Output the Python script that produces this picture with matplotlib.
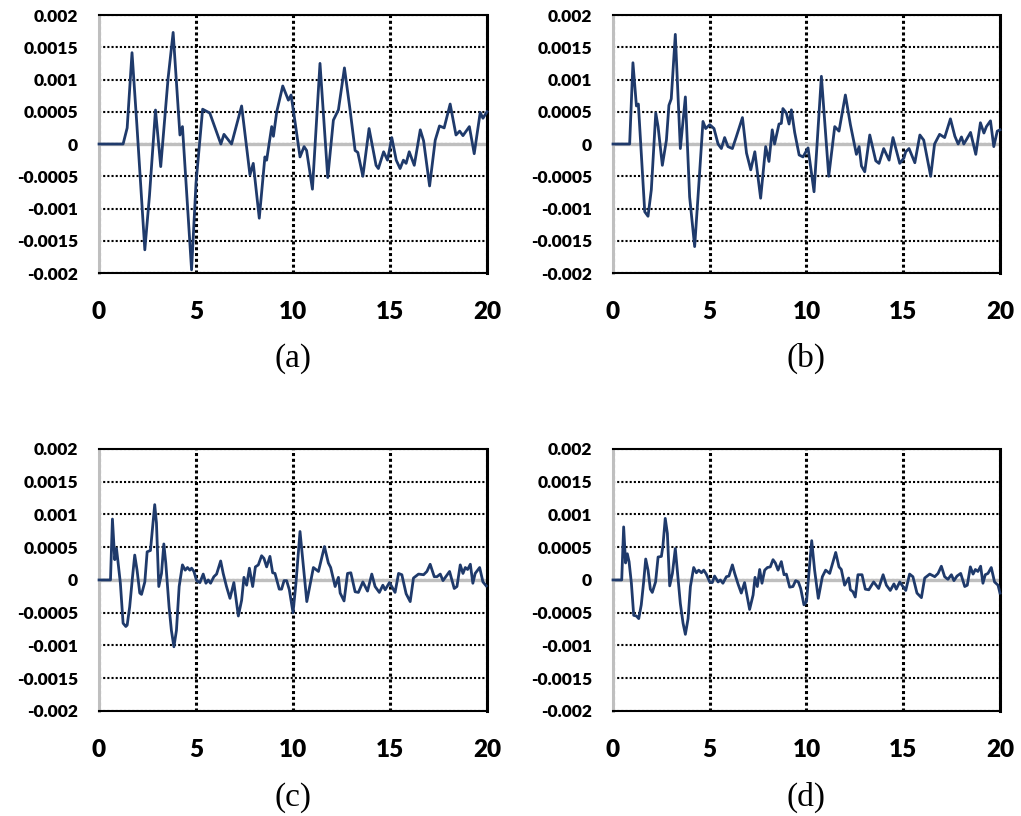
import matplotlib
matplotlib.use('Agg')
import matplotlib.pyplot as plt

# time (s) and response values
t_a = [0, 1.24, 1.45, 1.70, 1.95, 2.36, 2.60, 2.91, 3.18, 3.56, 3.82, 4.17, 4.30, 4.77, 5.0,
       5.34, 5.71, 6.28, 6.44, 6.83, 7.35, 7.78, 7.95, 8.26, 8.55, 8.64, 8.90, 8.99, 9.16, 9.47,
       9.76, 9.90, 10.10, 10.36, 10.57, 10.70, 11.0, 11.39, 11.79, 12.08, 12.34, 12.65, 12.94,
       13.2, 13.34, 13.6, 13.92, 14.28, 14.4, 14.67, 14.87, 15.09, 15.32, 15.52, 15.69, 15.83,
       15.99, 16.25, 16.56, 16.73, 17.04, 17.33, 17.55, 17.79, 18.1, 18.4, 18.59, 18.76, 19.09,
       19.34, 19.65, 19.79, 20.0]
y_a = [0, 0, 0.00025, 0.001416, 0.0003, -0.00164, -0.0008, 0.000527, -0.00035, 0.00102, 0.00173,
       0.00014, 0.00027, -0.00195, -0.0006, 0.00054, 0.00048, 0.0, 0.00015, 0.0, 0.00059,
       -0.00048, -0.0003, -0.00115, -0.0002, -0.00025, 0.00027, 0.00012, 0.0005, 0.0009, 0.00068,
       0.00076, 0.00035, -0.0002, -0.00004, -0.0001, -0.0007, 0.00125, -0.00052, 0.00037,
       0.00053, 0.00118, 0.00053, -0.0001, -0.00013, -0.0005, 0.00024, -0.00033, -0.00038,
       -0.00012, -0.00025, 0.0001, -0.00025, -0.00038, -0.00025, -0.0003, -0.00012, -0.00033,
       0.00022, 0.00005, -0.00065, 0.00006, 0.00028, 0.00025, 0.00062, 0.00014, 0.0002, 0.00013,
       0.00027, -0.00015, 0.00049, 0.0004, 0.0005]

t_b = [0, 0.86, 1.03, 1.21, 1.31, 1.64, 1.81, 1.98, 2.21, 2.33, 2.55, 2.76, 2.89, 3.01, 3.22,
       3.48, 3.74, 3.96, 4.22, 4.44, 4.65, 4.79, 5.0, 5.22, 5.43, 5.6, 5.77, 5.94, 6.17, 6.37,
       6.69, 6.9, 7.12, 7.33, 7.63, 7.89, 8.06, 8.23, 8.35, 8.58, 8.7, 8.78, 8.96, 9.1, 9.22,
       9.39, 9.62, 9.82, 10.08, 10.39, 10.77, 11.15, 11.46, 11.68, 12.01, 12.27, 12.58, 12.72,
       12.84, 13.01, 13.27, 13.58, 13.75, 13.99, 14.27, 14.47, 14.82, 15.03, 15.13, 15.3, 15.6,
       15.86, 16.06, 16.42, 16.62, 16.88, 17.14, 17.44, 17.67, 17.84, 18.01, 18.13, 18.27,
       18.48, 18.75, 18.99, 19.17, 19.3, 19.51, 19.68, 19.86, 20.0]
y_b = [0, 0, 0.00126, 0.00059, 0.00062, -0.00105, -0.00112, -0.00071, 0.00048, 0.00027,
       -0.00033, 0.00006, 0.0006, 0.0007, 0.0017, -0.00007, 0.00073, -0.00082, -0.00159,
       -0.00061, 0.00035, 0.00024, 0.0003, 0.00024, 0.0, -0.00007, 0.0001, -0.00004, -0.00007,
       0.00011, 0.00041, -0.00014, -0.0004, -0.00012, -0.00084, -0.00004, -0.00027, 0.00022,
       0.0, 0.00031, 0.00032, 0.00055, 0.00048, 0.00031, 0.00053, 0.00018, -0.00017, -0.0002,
       -0.00006, -0.00074, 0.00105, -0.0005, 0.00027, 0.0002, 0.00076, 0.0003, -0.00016,
       -0.00004, -0.00034, -0.00043, 0.00014, -0.00026, -0.0003, -0.00007, -0.00025, 0.0001,
       -0.0003, -0.00022, -0.00012, -0.00007, -0.00029, 0.00014, 0.00006, -0.0005, 0.0, 0.00015,
       0.0001, 0.00039, 0.00012, 0.0, 0.00011, 0.0, 0.00007, 0.00018, -0.00016, 0.00033,
       0.00017, 0.00027, 0.00036, -0.00004, 0.0002, 0.00022]

t_c = [0, 0.59, 0.69, 0.81, 0.90, 0.98, 1.10, 1.24, 1.38, 1.45, 1.58, 1.72, 1.84, 1.96, 2.10,
       2.19, 2.36, 2.48, 2.65, 2.75, 2.87, 2.96, 3.08, 3.22, 3.34, 3.44, 3.61, 3.73, 3.86, 3.99,
       4.13, 4.30, 4.44, 4.56, 4.68, 4.77, 4.89, 5.03, 5.20, 5.37, 5.51, 5.63, 5.75, 5.92, 6.06,
       6.27, 6.40, 6.57, 6.75, 6.95, 7.18, 7.35, 7.47, 7.61, 7.75, 7.92, 8.06, 8.21, 8.38, 8.50,
       8.64, 8.81, 8.95, 9.07, 9.29, 9.41, 9.54, 9.67, 9.81, 10.0, 10.15, 10.36, 10.71, 11.05,
       11.31, 11.62, 11.82, 11.94, 12.17, 12.34, 12.43, 12.63, 12.81, 12.98, 13.2, 13.37, 13.6,
       13.84, 14.06, 14.23, 14.45, 14.63, 14.75, 14.97, 15.09, 15.26, 15.44, 15.61, 15.83,
       16.04, 16.21, 16.47, 16.73, 16.9, 17.07, 17.28, 17.42, 17.59, 17.73, 17.9, 18.07, 18.31,
       18.45, 18.62, 18.76, 18.88, 19.0, 19.14, 19.27, 19.39, 19.62, 19.79, 19.96]
y_c = [0, 0, 0.00093, 0.00031, 0.00048, 0.00027, -0.00005, -0.00066, -0.00071, -0.00069,
       -0.00041, 0.00003, 0.00038, 0.00015, -0.0002, -0.00022, -0.00003, 0.00043, 0.00045,
       0.00077, 0.00115, 0.00087, -0.0001, 0.0001, 0.00055, 0.00026, -0.00041, -0.00077,
       -0.00102, -0.00077, -0.0001, 0.00023, 0.00015, 0.00019, 0.00015, 0.00018, 0.00013,
       -0.00001, -0.00004, 0.00009, -0.00005, 0.0, -0.00005, 0.00005, 0.00009, 0.00029, 0.0001,
       -0.0001, -0.00028, -0.00004, -0.00055, -0.00031, 0.00004, -0.00008, 0.00018, -0.0001,
       0.0002, 0.00023, 0.00037, 0.00033, 0.0002, 0.00036, 0.00011, 0.0001, -0.00014, -0.00014,
       -0.00001, -0.00001, -0.00015, -0.0005, -0.00005, 0.00074, -0.00033, 0.00019, 0.00013,
       0.00051, 0.00026, 0.00019, -0.0001, 0.00004, -0.0002, -0.00032, 0.0001, 0.00011,
       -0.00018, -0.00019, -0.00003, -0.00017, 0.00009, -0.0001, -0.00019, -0.00008, -0.00015,
       -0.00004, -0.0001, -0.00019, 0.0001, 0.00008, -0.00021, -0.00033, 0.00003, 0.00009,
       0.00008, 0.00013, 0.00024, 0.00005, 0.00005, 0.00009, -0.00001, 0.00006, 0.00013,
       -0.00013, -0.0001, 0.00023, 0.0001, 0.00019, 0.00016, 0.00024, -0.00005, 0.0001, 0.00019,
       -0.00003, -0.00009]

t_d = [0, 0.45, 0.55, 0.65, 0.74, 0.83, 0.95, 1.07, 1.21, 1.33, 1.46, 1.58, 1.69, 1.81, 1.93,
       2.03, 2.20, 2.33, 2.50, 2.58, 2.70, 2.81, 2.93, 3.07, 3.22, 3.32, 3.48, 3.62, 3.74, 3.88,
       4.00, 4.17, 4.31, 4.43, 4.57, 4.69, 4.82, 5.00, 5.13, 5.25, 5.43, 5.55, 5.68, 5.86, 5.99,
       6.17, 6.29, 6.46, 6.63, 6.80, 7.06, 7.24, 7.34, 7.46, 7.58, 7.70, 7.84, 7.98, 8.13, 8.27,
       8.39, 8.53, 8.70, 8.84, 8.96, 9.13, 9.30, 9.44, 9.58, 9.70, 9.87, 10.0, 10.27, 10.42,
       10.61, 10.82, 10.99, 11.2, 11.51, 11.68, 11.8, 11.97, 12.18, 12.27, 12.4, 12.52, 12.66,
       12.87, 13.04, 13.22, 13.47, 13.73, 13.96, 14.13, 14.33, 14.52, 14.64, 14.82, 14.99,
       15.13, 15.33, 15.5, 15.71, 15.94, 16.11, 16.37, 16.63, 16.8, 16.97, 17.14, 17.31, 17.49,
       17.62, 17.78, 17.97, 18.18, 18.31, 18.47, 18.61, 18.73, 18.86, 19.0, 19.12, 19.24, 19.38,
       19.55, 19.72, 19.9, 20.0]
y_d = [0, 0, 0.00081, 0.00026, 0.0004, 0.00028, -0.00005, -0.00054, -0.00055, -0.00059,
       -0.00038, -0.00004, 0.00032, 0.00015, -0.00014, -0.00019, -0.00003, 0.00035, 0.00036,
       0.00052, 0.00094, 0.00071, -0.00009, 0.0001, 0.00048, 0.00015, -0.00036, -0.00066,
       -0.00083, -0.00059, -0.0001, 0.00019, 0.00011, 0.00015, 0.00011, 0.00015, 0.00009,
       -0.00003, -0.00004, 0.00006, -0.00003, 0.0, -0.00005, 0.00005, 0.00006, 0.00023, 0.0001,
       -0.00006, -0.0002, -0.00004, -0.00045, -0.00023, 0.00004, -0.0001, 0.00016, -0.00005,
       0.00015, 0.00019, 0.0002, 0.00031, 0.00026, 0.00015, 0.00028, 0.00008, 0.00009, -0.00011,
       -0.0001, -0.00001, -0.00003, -0.00013, -0.00038, -0.00033, 0.0006, 0.00015, -0.00028,
       0.00005, 0.00015, 0.0001, 0.00042, 0.0002, 0.00016, -0.00008, 0.00003, -0.00015, -0.00018,
       -0.00026, 0.00008, 0.00008, -0.00014, -0.00015, -0.00003, -0.00013, 0.00008, -0.00008,
       -0.00016, -0.00006, -0.00014, -0.00003, -0.0001, -0.00016, 0.00009, 0.00005, -0.0002,
       -0.00027, 0.00003, 0.00009, 0.00005, 0.0001, 0.00021, 0.00005, 0.00001, 0.00008, -0.00001,
       0.00006, 0.0001, -0.0001, -0.00008, 0.0002, 0.00009, 0.00016, 0.00013, 0.00021, -0.00005,
       0.00008, 0.0001, 0.00019, -0.00003, -0.00008, -0.0002]

x_ticks = [0, 5, 10, 15, 20]
y_ticks = [-0.002, -0.0015, -0.001, -0.0005, 0, 0.0005, 0.001, 0.0015, 0.002]
y_tick_labels = ['-0.002', '-0.0015', '-0.001', '-0.0005', '0',
                 '0.0005', '0.001', '0.0015', '0.002']
panel_labels = ['(a)', '(b)', '(c)', '(d)']

LINE_COLOR = '#1f3a6b'
H_DOTS = (0, (1, 1))
V_DOTS = (0, (1, 0.9))


def style_axes(ax, label):
    ax.set_xlim(0, 20)
    ax.set_ylim(-0.002, 0.002)
    ax.set_xticks(x_ticks)
    ax.set_yticks(y_ticks)
    ax.set_yticklabels(y_tick_labels)
    ax.tick_params(length=0)
    ax.tick_params(axis='x', labelsize=17.5, pad=20)
    ax.tick_params(axis='y', labelsize=12.5, pad=15)
    for lbl in ax.get_xticklabels() + ax.get_yticklabels():
        lbl.set_fontweight('heavy')

    # dotted grid, vertical lines heavier than horizontal ones
    ax.grid(axis='y', color='black', linestyle=H_DOTS, linewidth=1.5)
    ax.grid(axis='x', color='black', linestyle=V_DOTS, linewidth=2.2)
    ax.set_axisbelow(True)

    ax.spines['left'].set_color('#bfbfbf')
    ax.spines['left'].set_linewidth(2.2)
    for side in ['top', 'bottom']:
        ax.spines[side].set_color('black')
        ax.spines[side].set_linestyle(H_DOTS)
        ax.spines[side].set_linewidth(1.5)
    ax.spines['right'].set_color('black')
    ax.spines['right'].set_linestyle(V_DOTS)
    ax.spines['right'].set_linewidth(2.2)

    ax.axhline(0, color='#bfbfbf', linewidth=2.4, zorder=2)
    ax.text(0.5, -0.33, label, transform=ax.transAxes, ha='center', va='center',
            fontsize=24, family='Liberation Serif')


plt.rcParams['font.family'] = ['Lato', 'DejaVu Sans']
fig = plt.figure(figsize=(10.21, 8.16), dpi=100)

positions = [
    [0.0970, 0.6654, 0.3800, 0.3162],
    [0.6004, 0.6654, 0.3790, 0.3162],
    [0.0970, 0.1287, 0.3800, 0.3211],
    [0.6004, 0.1287, 0.3790, 0.3211],
]
series = [(t_a, y_a), (t_b, y_b), (t_c, y_c), (t_d, y_d)]

for pos, (t, y), label in zip(positions, series, panel_labels):
    ax = fig.add_axes(pos)
    ax.plot(t, y, color=LINE_COLOR, linewidth=2.0, zorder=3, clip_on=False)
    style_axes(ax, label)

fig.savefig('out.png', dpi=100)
